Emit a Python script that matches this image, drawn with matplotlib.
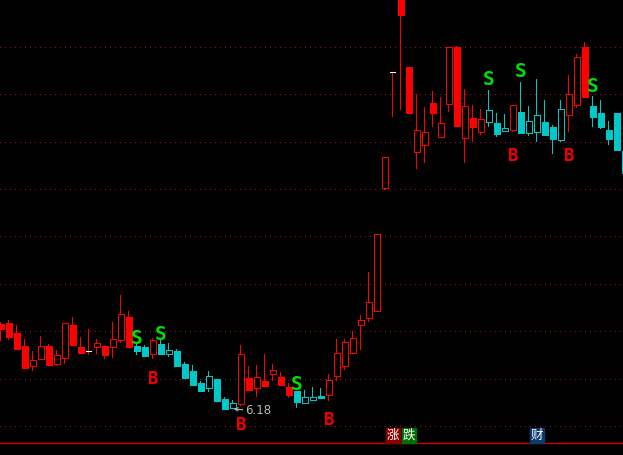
import matplotlib
matplotlib.use("Agg")
import matplotlib.pyplot as plt

body_top = [7.03,7.04,6.94,6.81,6.67,6.81,6.81,6.72,7.04,7.02,6.80,6.75,6.84,6.81,6.88,7.13,7.10,6.81,6.80,6.87,
            6.83,6.77,6.76,6.63,6.56,6.44,6.51,6.48,6.28,6.24,6.73,6.49,6.50,6.46,6.57,6.50,6.40,6.36,6.30,6.30,
            6.31,6.47,6.74,6.85,6.89,7.07,7.25,7.93,8.70,9.54,10.32,9.60,8.97,8.95,9.24,9.04,9.80,9.80,9.21,9.09,
            9.08,9.17,9.04,8.99,9.22,9.15,9.06,9.12,9.05,9.00,9.18,9.33,9.70,9.80,9.21,9.14,8.97,9.14,8.76]
body_bot = [6.98,6.90,6.78,6.59,6.61,6.68,6.62,6.63,6.69,6.82,6.74,6.75,6.80,6.72,6.80,6.87,6.80,6.76,6.71,6.73,
            6.73,6.73,6.61,6.49,6.42,6.36,6.39,6.26,6.18,6.19,6.23,6.37,6.39,6.41,6.53,6.42,6.32,6.25,6.24,6.27,
            6.29,6.32,6.51,6.61,6.74,7.02,7.09,7.16,8.39,9.54,10.12,9.14,8.75,8.82,9.14,8.90,9.23,9.01,8.89,9.00,
            8.95,9.05,8.93,8.96,8.97,8.94,8.94,8.95,8.92,8.88,8.87,9.12,9.22,9.30,9.10,9.00,8.88,8.77,8.54]
high = [7.05,7.07,7.02,6.88,6.76,6.91,6.83,6.77,7.04,7.10,6.90,6.98,6.88,6.81,7.05,7.32,7.16,6.83,6.82,6.89,
        6.87,6.84,6.78,6.65,6.62,6.46,6.56,6.48,6.30,6.27,6.82,6.61,6.62,6.73,6.63,6.55,6.44,6.36,6.37,6.40,
        6.39,6.53,6.88,6.88,6.96,7.12,7.55,7.93,8.70,9.54,10.32,9.60,9.33,9.20,9.36,9.30,9.80,9.81,9.38,9.22,
        9.18,9.37,9.14,9.13,9.22,9.45,9.21,9.48,9.27,9.02,9.27,9.52,9.73,9.85,9.31,9.27,9.06,9.14,8.76]
low = [6.86,6.87,6.78,6.59,6.56,6.68,6.62,6.61,6.63,6.82,6.74,6.72,6.73,6.68,6.69,6.84,6.80,6.72,6.71,6.68,
       6.73,6.70,6.61,6.49,6.42,6.36,6.35,6.26,6.18,6.18,6.21,6.37,6.30,6.41,6.46,6.42,6.29,6.19,6.23,6.27,
       6.28,6.26,6.46,6.57,6.73,6.77,7.05,7.16,8.37,9.10,9.17,9.14,8.58,8.64,9.00,8.90,9.15,9.01,8.64,8.85,
       8.92,9.00,8.90,8.96,8.95,8.94,8.91,8.85,8.92,8.73,8.85,8.95,9.19,9.30,9.00,8.98,8.82,8.77,8.54]
# r = red, c = cyan, f = solid, o = hollow, d = doji
kinds = ("rf rf rf rf ro ro rf ro ro rf rf d ro rf ro ro rf cf cf ro "
         "cf co cf cf cf cf co cf cf co ro rf ro rf ro rf rf cf co co "
         "cf ro ro ro ro ro ro ro ro d rf rf ro ro rf ro ro rf ro rf "
         "ro co cf co ro cf co co cf cf co ro ro rf cf cf cf cf cf").split()

grid_levels = [9.80, 9.33, 8.85, 8.38, 7.91, 7.43, 6.96, 6.48, 6.01]
base_level = 5.84

s_index = [17, 20, 37, 61, 65, 74]
s_price = [6.88, 6.92, 6.43, 9.47, 9.55, 9.41]
b_index = [19, 30, 41, 64, 71]
b_price = [6.48, 6.02, 6.07, 8.71, 8.71]
badge_text = ["涨", "跌", "财"]
badge_index = [49, 51, 67]
badge_color = ["#8b0000", "#007000", "#0a3a70"]
low_label = 6.18

RED = "#ff0000"
CYAN = "#00c8c8"
LW = 0.71

plt.rcParams["font.family"] = ["Noto Sans CJK SC", "DejaVu Sans"]

fig = plt.figure(figsize=(6.23, 4.55), dpi=100, facecolor="black")
ax = fig.add_axes([0, 0, 1, 1], facecolor="black")
ax.set_xlim(-0.10, 77.78)
ax.set_ylim(5.72, 10.27)
ax.axis("off")

for level in grid_levels:
    ax.axhline(level, color="#a01028", lw=LW, ls=(0, (1, 4.5)), zorder=1, antialiased=False)
ax.axhline(base_level, color="#d00000", lw=1.0, zorder=1)

for i, kind in enumerate(kinds):
    color = CYAN if kind[0] == "c" else RED
    # thin filled bars instead of lines, these come out one pixel wide in full colour
    ax.bar(i, high[i] - low[i], bottom=low[i], width=0.125, facecolor=color, linewidth=0,
           zorder=2, antialiased=False)
    if kind == "d":
        ax.bar(i, 0.01, bottom=body_top[i], width=0.75, facecolor="white", linewidth=0,
               zorder=3, antialiased=False)
        continue
    face = color if kind[1] == "f" else "black"
    ax.bar(i, body_top[i] - body_bot[i], bottom=body_bot[i], width=0.76,
           facecolor=face, edgecolor=color, linewidth=LW, zorder=3, antialiased=False)

for i, p in zip(s_index, s_price):
    ax.text(i, p, "S", color="#00e000", fontsize=14, family="DejaVu Sans Mono", weight="bold",
            ha="center", va="center", zorder=4)
for i, p in zip(b_index, b_price):
    ax.text(i, p, "B", color="#f00000", fontsize=12.5, family="DejaVu Sans Mono", weight="bold",
            ha="center", va="center", zorder=4)

ax.annotate("6.18", xy=(29.1, low_label), xytext=(30.6, low_label - 0.02),
            color="#b8b8b8", fontsize=8.5, family="DejaVu Sans", va="center", zorder=4,
            arrowprops=dict(arrowstyle="->", color="#b8b8b8", lw=0.8, shrinkA=0, shrinkB=0,
                            mutation_scale=6))

for txt, i, c in zip(badge_text, badge_index, badge_color):
    ax.text(i, 5.92, txt, color="white", fontsize=9, ha="center", va="center", zorder=4,
            bbox=dict(boxstyle="square,pad=0.08", facecolor=c, edgecolor=c))

fig.savefig("out.png", dpi=100, facecolor="black")
